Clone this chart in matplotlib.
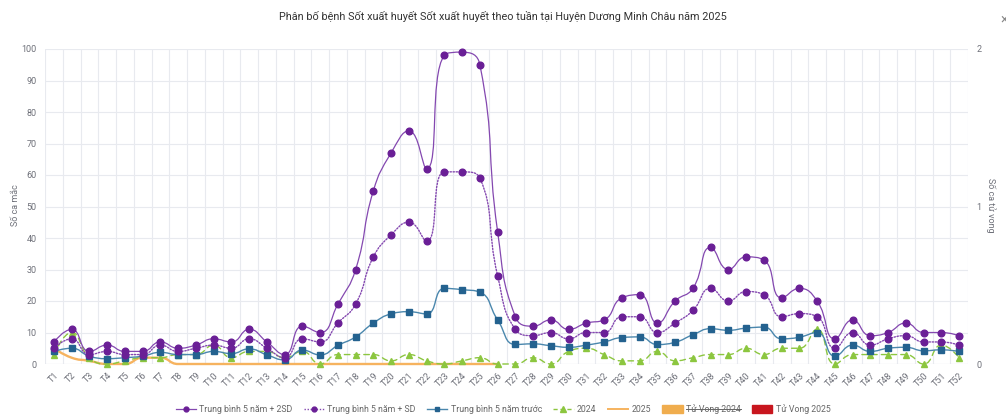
import numpy as np
import matplotlib
matplotlib.use('Agg')
import matplotlib.pyplot as plt
from matplotlib.path import Path
from matplotlib.patches import PathPatch, Patch
from matplotlib.lines import Line2D

plt.rcParams['font.family'] = ['Roboto', 'DejaVu Sans']

title = 'Phân bố bệnh Sốt xuất huyết Sốt xuất huyết theo tuần tại Huyện Dương Minh Châu năm 2025'

weeks = ['T1', 'T2', 'T3', 'T4', 'T5', 'T6', 'T7', 'T8', 'T9', 'T10',
         'T11', 'T12', 'T13', 'T14', 'T15', 'T16', 'T17', 'T18', 'T19', 'T20',
         'T21', 'T22', 'T23', 'T24', 'T25', 'T26', 'T27', 'T28', 'T29', 'T30',
         'T31', 'T32', 'T33', 'T34', 'T35', 'T36', 'T37', 'T38', 'T39', 'T40',
         'T41', 'T42', 'T43', 'T44', 'T45', 'T46', 'T47', 'T48', 'T49', 'T50',
         'T51', 'T52']

# so ca mac
tb_2sd = [7, 11, 4, 6, 4, 4, 7, 5, 6, 8,
          7, 11, 7, 3, 12, 10, 19, 30, 55, 67,
          74, 62, 98, 99, 95, 42, 15, 12, 14, 11,
          13, 14, 21, 22, 13, 20, 24, 37, 30, 34,
          33, 21, 24, 20, 8, 14, 9, 10, 13, 10,
          10, 9]
tb_sd = [5, 8, 3, 4, 3, 3, 6, 4, 5, 6,
         5, 8, 5, 2, 8, 7, 13, 19, 34, 41,
         45, 39, 61, 61, 59, 28, 11, 9, 10, 8,
         10, 10, 15, 15, 10, 13, 17, 24, 20, 23,
         22, 15, 16, 15, 5, 10, 6, 8, 9, 7,
         7, 6]
tb_5nam = [4, 5, 2.5, 1.7, 2, 2.5, 3.7, 3, 3, 4,
           3.3, 4.8, 2.9, 1.3, 4.4, 2.9, 5.9, 8.6, 13, 15.9,
           16.6, 15.9, 24, 23.6, 22.8, 14, 6.2, 6.4, 5.8, 5.3,
           6, 7, 8.4, 8.6, 6.2, 6.9, 9.3, 11.2, 10.7, 11.4,
           11.7, 8, 8.5, 10, 2.5, 6, 4, 5, 5.3, 4.2,
           4.5, 4]
ca_2024 = [3, 10, 2, 0, 1, 2, 2, 3, 3, 6,
           2, 4, 4, 2, 4, 0, 3, 3, 3, 1,
           3, 1, 0, 1, 2, 0, 0, 2, 0, 4,
           5, 3, 1, 1, 4, 1, 2, 3, 3, 5,
           3, 5, 5, 11, 0, 3, 3, 3, 3, 0,
           6, 2]
ca_2025 = [5, 2, 1, 0, 0, 2, 2, 0, 0, 0,
           0, 0, 0, 0, 0, 0, 0, 0, 0, 0,
           0, 0, 0, 0, 0, 0]

# so ca tu vong
tv_2024 = [0, 0, 0, 0, 0, 0, 0, 0, 0, 0,
           0, 0, 0, 0, 0, 0, 0, 0, 0, 0,
           0, 0, 0, 0, 0, 0, 0, 0, 0, 0,
           0, 0, 0, 0, 0, 0, 0, 0, 0, 0,
           0, 0, 0, 0, 0, 0, 0, 0, 0, 0,
           0, 0]
tv_2025 = [0, 0, 0, 0, 0, 0, 0, 0, 0, 0,
           0, 0, 0, 0, 0, 0, 0, 0, 0, 0,
           0, 0, 0, 0, 0, 0]

W, H = 1006, 417
SX, SY = 17.75, 3.15  # px per week / per case, for the smoothing


def smooth_path(xs, ys, smooth=0.5):
    # bezier like echarts smooth line
    P = [(a * SX, b * SY) for a, b in zip(xs, ys)]
    n = len(P)
    verts = [P[0]]
    codes = [Path.MOVETO]
    cp0 = P[0]
    for i in range(1, n):
        x, y = P[i]
        px, py = P[i - 1]
        if i == n - 1:
            cp1 = (x, y)
            ncp0 = (x, y)
        else:
            nx, ny = P[i + 1]
            vx, vy = nx - px, ny - py
            lp = np.hypot(x - px, y - py)
            ln = np.hypot(nx - x, ny - y)
            r = ln / (ln + lp)
            c0x = x + vx * smooth * r
            c0y = y + vy * smooth * r
            c0x = min(max(c0x, min(nx, x)), max(nx, x))
            c0y = min(max(c0y, min(ny, y)), max(ny, y))
            vx, vy = c0x - x, c0y - y
            c1x = x - vx * lp / ln
            c1y = y - vy * lp / ln
            c1x = min(max(c1x, min(px, x)), max(px, x))
            c1y = min(max(c1y, min(py, y)), max(py, y))
            vx, vy = x - c1x, y - c1y
            c0x = x + vx * ln / lp
            c0y = y + vy * ln / lp
            cp1 = (c1x, c1y)
            ncp0 = (c0x, c0y)
        verts += [cp0, cp1, (x, y)]
        codes += [Path.CURVE4] * 3
        cp0 = ncp0
    return Path([(a / SX, b / SY) for a, b in verts], codes)


fig = plt.figure(figsize=(W / 100, H / 100), dpi=100)
ax = fig.add_axes([45 / W, 1 - 364 / H, (968 - 45) / W, (364 - 49) / H])
ax2 = ax.twinx()

x = np.arange(len(weeks))
grid_c = '#e8eaef'
lab_c = '#6e7079'

purple = '#8448b0'
purple_m = '#6a1f96'
blue = '#4a87ad'
blue_m = '#24628f'
green = '#8cc63f'
orange = '#f6b35f'
orange_bar = '#f0ad4e'
red_bar = '#c8161e'


def draw(vals, color, mcolor, ls, marker, ms, lw, z):
    xs = x[:len(vals)]
    ax.add_patch(PathPatch(smooth_path(xs, vals), fill=False, ec=color,
                           lw=lw, ls=ls, zorder=z, capstyle='round',
                           clip_on=False))
    if marker:
        ax.plot(xs, vals, ls='none', marker=marker, ms=ms, color=mcolor,
                mec=mcolor, zorder=z + 0.5, clip_on=False)


draw(ca_2025, orange, None, '-', None, 0, 1.7, 3)
draw(ca_2024, green, green, (0, (4, 3)), '^', 4.8, 1.0, 4)
draw(tb_5nam, blue, blue_m, '-', 's', 3.8, 1.0, 5)
draw(tb_sd, purple, purple_m, (0, (1, 1.2)), 'o', 4.8, 1.0, 6)
draw(tb_2sd, purple, purple_m, '-', 'o', 4.8, 0.9, 7)

ax2.bar(x - 0.2, tv_2024, width=0.35, color=orange_bar)
ax2.bar(x[:len(tv_2025)] + 0.2, tv_2025, width=0.35, color=red_bar)

ax.set_xlim(-0.5, len(weeks) - 0.5)
ax.set_ylim(0, 100)
ax2.set_ylim(0, 2)
ax.set_yticks(range(0, 101, 10))
ax2.set_yticks([0, 1, 2])
ax.set_xticks(x)
ax.set_xticklabels(weeks, rotation=45, ha='right', va='top',
                   rotation_mode='anchor')
ax.set_xticks(np.arange(-0.5, len(weeks), 1), minor=True)
ax.grid(which='minor', axis='x', color=grid_c, lw=0.8)
ax.grid(which='major', axis='y', color=grid_c, lw=0.8)
ax.set_axisbelow(True)
ax.tick_params(which='both', length=0, labelsize=6.5, labelcolor=lab_c)
ax.tick_params(axis='y', pad=6)
ax.tick_params(axis='x', pad=5)
ax2.tick_params(length=0, labelsize=6.5, labelcolor=lab_c, pad=6)
for a in (ax, ax2):
    for s in a.spines.values():
        s.set_visible(False)
ax.axhline(0, color='#dcdfe6', lw=0.8, zorder=1)

fig.text(15 / W, 1 - 205 / H, 'Số ca mắc', rotation=90, ha='center',
         va='center', fontsize=6.5, color=lab_c)
fig.text(991 / W, 1 - 205 / H, 'Số ca tử vong', rotation=270, ha='center',
         va='center', fontsize=6.5, color=lab_c)
fig.text(0.5, 1 - 16 / H, title, ha='center', va='center', fontsize=7.8,
         color='#333333')
fig.text(1000 / W, 1 - 20 / H, '×', ha='left', va='center', fontsize=10,
         color='#888888')

handles = [
    Line2D([], [], color=purple, lw=0.9, marker='o', ms=3.5, mfc=purple_m, mec=purple_m),
    Line2D([], [], color=purple, lw=1.0, ls=(0, (1, 1.2)), marker='o', ms=3.5, mfc=purple_m, mec=purple_m),
    Line2D([], [], color=blue, lw=1.0, marker='s', ms=3, mfc=blue_m, mec=blue_m),
    Line2D([], [], color=green, lw=1.0, ls=(0, (3, 2)), marker='^', ms=4, mfc=green, mec=green),
    Line2D([], [], color=orange, lw=1.4),
    Patch(color=orange_bar),
    Patch(color=red_bar),
]
labels = ['Trung bình 5 năm + 2SD', 'Trung bình 5 năm + SD',
          'Trung bình 5 năm trước', '2024', '2025', 'Tử Vong 2024',
          'Tử Vong 2025']
leg = fig.legend(handles, labels, loc='center', bbox_to_anchor=(0.5, 1 - 409 / H),
                 ncol=7, frameon=False, fontsize=6.3, handlelength=2.3,
                 handleheight=0.9, handletextpad=0.4, columnspacing=1.3,
                 labelcolor='#666666')

# strike through hidden series label
fig.canvas.draw()
rend = fig.canvas.get_renderer()
t = leg.get_texts()[5]
bb = t.get_window_extent(rend)
ym = (bb.y0 + bb.y1) / 2
fig.add_artist(Line2D([bb.x0 / W, bb.x1 / W], [ym / H, ym / H],
                      transform=fig.transFigure, color='#666666', lw=0.7))

fig.savefig('out.png', dpi=100)
